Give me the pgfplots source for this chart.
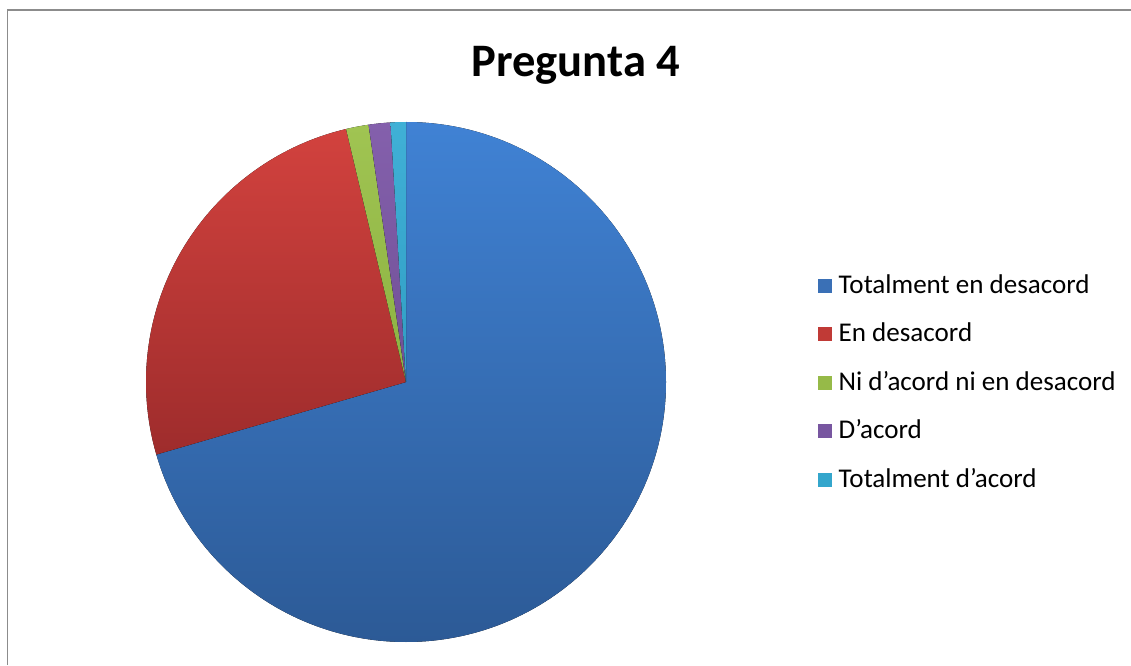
\documentclass[border=0pt]{standalone}
\usepackage{fontspec}
\setmainfont{Carlito}
\usepackage{pgfplots}
\usepackage{pgfplotstable}
\pgfplotsset{compat=1.18}

\definecolor{blueT}{RGB}{64,130,212}
\definecolor{blueB}{RGB}{44,90,150}
\definecolor{blueL}{RGB}{58,112,182}
\definecolor{redT}{RGB}{210,66,62}
\definecolor{redB}{RGB}{158,44,44}
\definecolor{redL}{RGB}{192,58,54}
\definecolor{greenT}{RGB}{160,196,82}
\definecolor{greenB}{RGB}{140,178,66}
\definecolor{greenL}{RGB}{150,186,72}
\definecolor{purpT}{RGB}{132,96,172}
\definecolor{purpB}{RGB}{112,80,150}
\definecolor{purpL}{RGB}{120,86,160}
\definecolor{cyanT}{RGB}{64,176,214}
\definecolor{cyanB}{RGB}{48,158,196}
\definecolor{cyanL}{RGB}{52,166,204}

% percentages, clockwise from 12 o'clock
\pgfplotstableread[col sep=comma]{
label,value,top,bottom,leg
Totalment en desacord,70.5,blueT,blueB,blueL
En desacord,25.8,redT,redB,redL
Ni d’acord ni en desacord,1.4,greenT,greenB,greenL
D’acord,1.35,purpT,purpB,purpL
Totalment d’acord,0.95,cyanT,cyanB,cyanL
}\piedata

\begin{document}
\begin{tikzpicture}
\path[use as bounding box] (0,0) rectangle (22.62,13.3);
\draw[black!45, line width=0.9pt] (0.15,0) -- (0.15,13.1) -- (22.62,13.1);
\begin{axis}[
    at={(8.12cm,5.66cm)}, anchor=center,
    x=5.2cm, y=5.2cm,
    xmin=-1, xmax=1, ymin=-1, ymax=1,
    hide axis, clip=false,
    title={Pregunta 4},
    title style={at={(0.827,1.067)}, anchor=base,
        font=\bfseries\fontsize{26.5}{30}\selectfont},
    legend image code/.code={\fill[#1] (0cm,0cm) rectangle (0.26cm,0.26cm);},
    legend cell align=left,
    legend style={draw=none, fill=none, at={(1.2923,0.486)}, anchor=west,
        inner sep=0pt, outer sep=0pt, row sep=0pt, column sep=0.14cm,
        nodes={inner sep=0pt, text height=0.5cm, text depth=0.47cm},
        font=\fontsize{15.4}{18}\selectfont},
]
\def\cum{0}
\pgfplotsforeachungrouped \i in {0,...,4}{%
  \pgfplotstablegetelem{\i}{value}\of\piedata \let\v\pgfplotsretval
  \pgfplotstablegetelem{\i}{top}\of\piedata \let\ct\pgfplotsretval
  \pgfplotstablegetelem{\i}{bottom}\of\piedata \let\cb\pgfplotsretval
  \pgfplotstablegetelem{\i}{leg}\of\piedata \let\cl\pgfplotsretval
  \pgfplotstablegetelem{\i}{label}\of\piedata \let\lab\pgfplotsretval
  \pgfmathsetmacro\a{90-3.6*\cum}
  \pgfmathsetmacro\b{90-3.6*(\cum+\v)}
  \pgfmathsetmacro\xa{cos(\a)}
  \pgfmathsetmacro\ya{sin(\a)}
  \edef\cmd{\noexpand\fill[top color=\ct, bottom color=\cb]
    (axis cs:0,0) -- (axis cs:\xa,\ya)
    arc[start angle=\a, end angle=\b, radius=5.2cm] -- cycle;}
  \cmd
  \edef\cmd{\noexpand\addlegendimage{\cl}}
  \cmd
  \expandafter\addlegendentry\expandafter{\lab}
  \pgfmathsetmacro\cum{\cum+\v}
}
\end{axis}
\end{tikzpicture}
\end{document}
